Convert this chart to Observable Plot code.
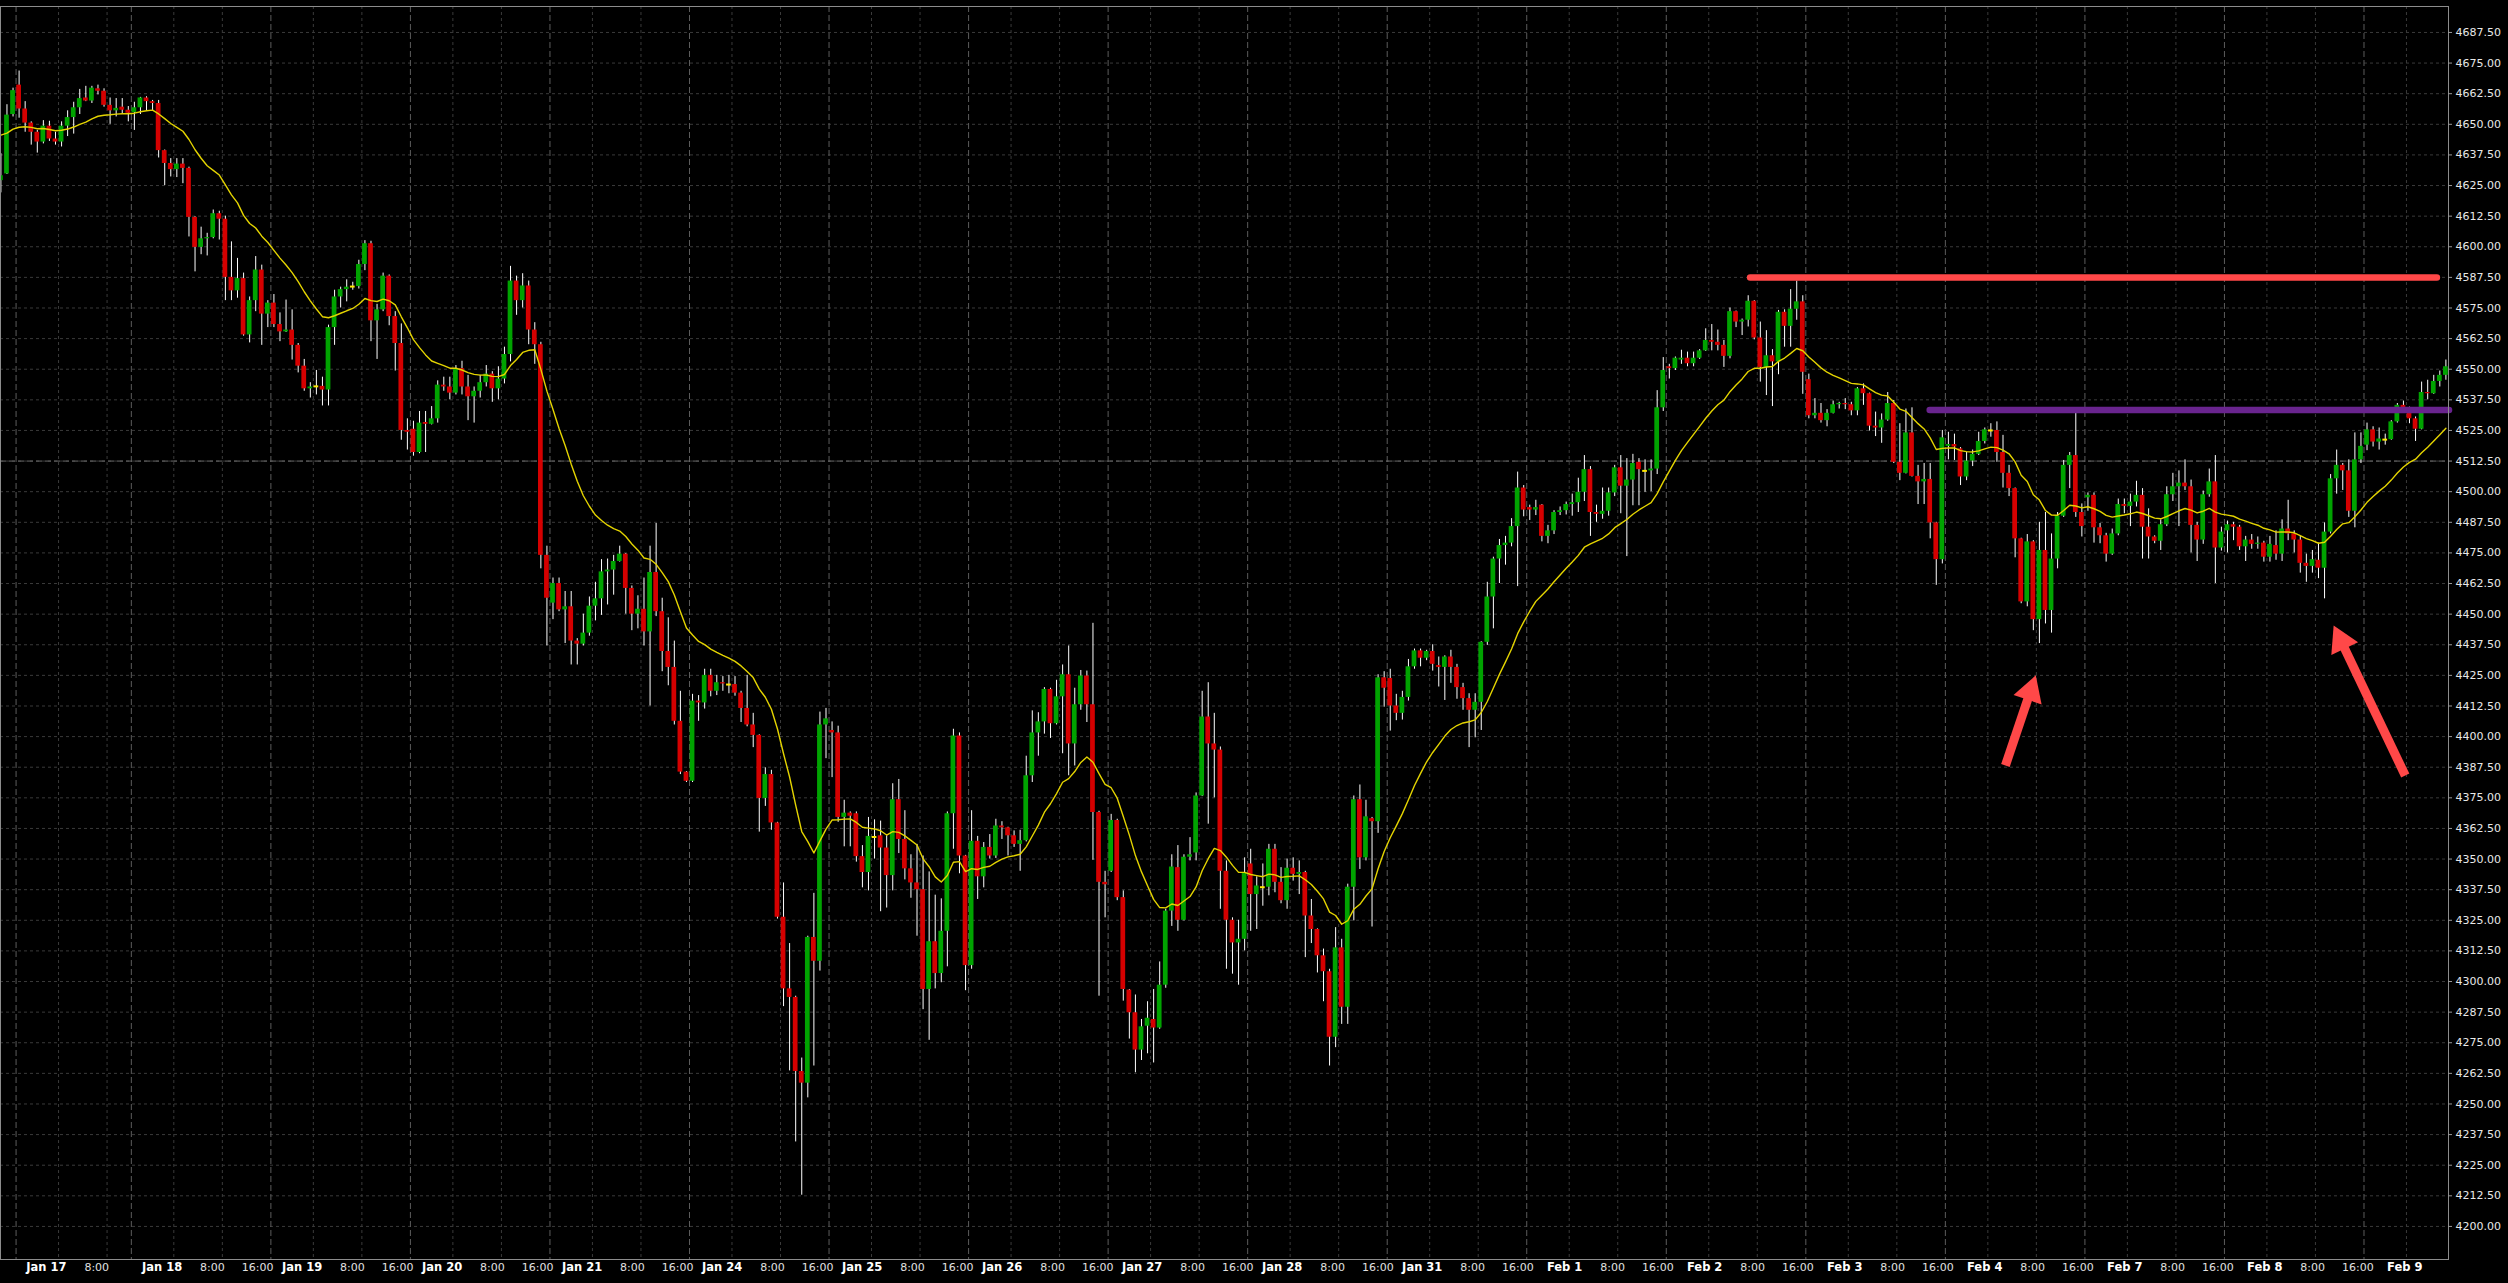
<!DOCTYPE html>
<html><head><meta charset="utf-8">
<script src="https://cdn.jsdelivr.net/npm/d3@7"></script>
<script src="https://cdn.jsdelivr.net/npm/@observablehq/plot@0.6"></script>
<style>
html,body{margin:0;padding:0;background:#000;overflow:hidden;}
#chart svg{display:block;}
</style></head><body><div id="chart"></div>
<script>
// ---- hourly OHLC (bar index 0..403) ----
const open = [
4627,4629.75,4654,4666,4656.25,4650.5,4646.75,4642.75,4649.25,4644,
4642.75,4649.25,4652.75,4656.75,4660.75,4659.5,4664.5,4663.5,4657.75,4655.5,
4657,4655.75,4654.75,4656.75,4660.75,4659.25,4658.5,4639.25,4634,4631.5,
4633.75,4632,4612,4599.75,4603.25,4603.75,4613.5,4611.25,4587.5,4582,
4587,4564,4578,4590.5,4572.5,4577,4568.25,4565.25,4566,4559.75,
4551.25,4542,4543,4543,4541.5,4567,4579.5,4582.5,4583.75,4583.75,
4592.75,4601.25,4569.75,4574.25,4588,4571.5,4560.5,4525,4525.5,4516,
4528.25,4527.5,4529.75,4543.5,4542.75,4540.25,4550.25,4542.75,4538.75,4541,
4544.5,4548,4542,4546,4556,4586,4578,4584,4566,4560,
4474,4454.5,4462.5,4451.75,4453,4439,4437.75,4442.25,4453.25,4456.25,
4467.25,4468,4471.5,4474.5,4460.5,4450,4452,4442.75,4467,4451,
4434.75,4428.25,4406.25,4385.5,4381.75,4414.5,4413.75,4425,4418.5,4422,
4421.25,4421.25,4417.75,4411.5,4404.75,4400.5,4374.75,4384.5,4364.75,4326.25,
4297,4293.5,4263.25,4258.5,4318,4308.25,4404.75,4402.5,4401.5,4367,
4368.75,4368.5,4351,4344.5,4359,4359.5,4354.5,4343.25,4374.25,4358,
4346,4340.25,4337.5,4296.75,4316.25,4303.25,4320.5,4368.5,4400.25,4351.25,
4306.5,4357.25,4342.75,4354.75,4351.25,4363.5,4362.75,4359.5,4356,4357.5,
4384,4401.5,4406,4419.25,4405.25,4416.25,4425.25,4397,4413,4424.75,
4413,4369,4340.5,4345,4365.75,4334.25,4296.5,4287.25,4272,4281.75,
4284.5,4281,4298.5,4328.75,4346.5,4325,4350.75,4352.5,4375.75,4408,
4397,4394.5,4345,4325,4315.75,4317.25,4348,4335.5,4338.5,4338.5,
4354,4340.5,4333,4346.25,4343.75,4344.5,4326.75,4321.25,4310.5,4304,
4277.25,4313.75,4289.5,4338.5,4374.25,4350.5,4366.5,4365.25,4424,4423.75,
4412.5,4409.5,4416,4428.5,4435,4432,4434.75,4429,4428.25,4432.5,
4428.25,4420,4415.5,4410.75,4414,4438.5,4457,4472.5,4478,4479,
4485.75,4501.5,4493.5,4492.5,4494.5,4481.75,4484,4491.5,4492.25,4494.75,
4495.5,4499.75,4509,4491.5,4490.75,4492,4499.5,4509.75,4502.25,4504.75,
4512,4508.5,4508.5,4509.25,4534.25,4551,4550.25,4553.75,4554.5,4552.25,
4554.5,4557.5,4561.75,4561,4559.75,4555.25,4573.5,4569.25,4570,4577.75,
4562.75,4550.75,4555.5,4553,4573.25,4567.5,4574.5,4577.5,4545.75,4531,
4532,4529,4532,4535.5,4536,4535.5,4533,4542,4540,4526.75,
4526,4529.25,4536,4512,4507.5,4524,4506.25,4504,4505,4487.25,
4472.25,4518.5,4519.25,4517.5,4506,4512.5,4515.25,4520.5,4525,4525,
4516,4507.5,4501.25,4480.75,4455,4479.5,4447.75,4476,4451.5,4472.5,
4490,4510.75,4514.75,4491.5,4497.5,4498.5,4485.25,4482,4474.5,4482.75,
4494.75,4494,4495.75,4498.5,4485.5,4481.5,4479.75,4486.5,4498.75,4502,
4503.5,4502,4486.25,4480.25,4498.75,4504,4477,4484,4486.5,4485.5,
4477.5,4480.25,4478.5,4479,4473.25,4478,4474.5,4484.75,4482.75,4480.25,
4470.75,4469.5,4472,4468.75,4483.5,4505.25,4510.75,4508.5,4492,4513,
4519,4525.25,4520.25,4521.25,4521.25,4528.5,4535.25,4533.5,4529.75,4525.5,
4540.5,4540,4545,4547.5];
const high = [
4638,4658,4664.75,4671.75,4659.25,4651,4647.5,4651.5,4651.25,4646.75,
4651,4655.5,4659,4664.25,4665.5,4665.5,4666,4664.5,4660.75,4660.5,
4660.5,4657.25,4659,4661,4661.25,4659.75,4659.75,4639.5,4636,4636,
4636,4632.5,4612.25,4608,4605.5,4615,4614.5,4612.5,4602,4595.25,
4589.25,4579.5,4596,4592.5,4578,4580.5,4573,4578.25,4574.25,4560.5,
4554,4544.5,4549.5,4546.75,4568,4582.25,4583.5,4586.5,4585.5,4594.5,
4602.5,4602.25,4576.5,4589.25,4588.5,4573.5,4568.5,4529.75,4528.75,4532.75,
4532.75,4534.75,4545.25,4546.75,4546.75,4551.5,4553.25,4547.5,4542.75,4547.5,
4551.5,4549,4551,4559,4592,4588,4589,4586,4569,4561,
4477.75,4464.75,4464.75,4459.25,4459.25,4440,4450,4457,4463,4472.25,
4472.5,4474,4477.75,4474.75,4461.5,4457.5,4464.75,4477.75,4487,4456.5,
4448.5,4439,4418.5,4385.75,4417.25,4416.75,4427.5,4427.5,4425,4424.5,
4425,4424.5,4418.5,4425,4409.5,4400.75,4387.25,4386.25,4365,4340.25,
4315.5,4294,4268.75,4318.5,4336,4410,4411.5,4406,4404.25,4374,
4369.25,4369.25,4355.5,4367,4366,4365.5,4359.5,4380.75,4382.5,4369.75,
4351.75,4356,4351.25,4344.75,4335.25,4333.75,4369.25,4403,4401.5,4351.5,
4369.75,4359.25,4356.75,4360,4366.25,4365.25,4363,4361.5,4361.75,4392,
4410.5,4409.75,4420,4419.75,4423,4429.25,4437,4419.75,4427,4426.75,
4446.25,4369.5,4345,4368.25,4366.25,4337,4296.75,4294.5,4284.5,4291.75,
4296.75,4308,4329.5,4351.75,4355.5,4351.75,4358.75,4377,4418.5,4422,
4409.5,4395.75,4349.25,4326,4325,4350.5,4354,4342.75,4348,4356,
4356,4346.5,4350,4350.5,4349.25,4345,4333.5,4321.5,4313.25,4305,
4322,4317.25,4339.75,4375.75,4380.25,4374,4367,4425.25,4426.5,4427.5,
4417.25,4418.5,4431.5,4435.75,4435.75,4435.25,4437.5,4432.5,4433,4435.25,
4429.5,4421.75,4417.5,4417.5,4438.75,4463,4473.25,4480.5,4481.75,4489,
4508,4502.5,4494.5,4496.5,4494.75,4486.25,4492.25,4493.75,4495.75,4499,
4505.5,4514.75,4510.25,4494.5,4501.5,4501.5,4510.75,4514.75,4513.5,4515.25,
4513.5,4513,4513,4541.25,4554.75,4552,4555,4557.75,4557,4557,
4558,4566.5,4568.25,4566,4561.75,4575,4573.75,4570.5,4580,4578,
4569.25,4565.75,4558,4574,4574.25,4582.5,4586,4580,4548,4538,
4536,4533.5,4537,4536.5,4538,4536.5,4542.5,4544,4540.25,4532.5,
4531.75,4540.5,4537.25,4527.75,4533.75,4534.25,4510.75,4511.5,4511.5,4487.5,
4525,4524.25,4523.5,4518,4516,4517,4524.25,4526,4527.75,4528.5,
4523,4510.75,4501.5,4481,4482.5,4480,4487.5,4491.5,4482.75,4491.5,
4512.75,4516,4532,4495,4499.5,4499.5,4487,4483,4484.75,4497,
4497,4499,4504.25,4501.25,4493,4482,4488.5,4502,4507.5,4508.5,
4513,4504.75,4487.5,4500.25,4509.25,4514.75,4485.5,4488,4487.5,4486.25,
4481.75,4482.5,4481.5,4479.75,4481.75,4484,4488.5,4496.5,4484,4481.75,
4474.5,4476,4479,4487.25,4507,4517,4511.5,4513,4524,4524,
4528,4526.5,4526,4523.5,4529,4536,4537,4534.5,4530.5,4544.75,
4545.5,4547.5,4549.25,4553.75];
const low = [
4622,4629.5,4653,4652.5,4646.75,4641.5,4638.25,4642,4643,4641.5,
4640.75,4645,4646,4654,4659.25,4658.5,4662,4657,4650,4653,
4654,4651,4647.5,4654,4655.25,4655.5,4636.25,4625,4628.5,4628.25,
4625.75,4604,4589.75,4596.75,4596.25,4603.25,4602.75,4578,4578,4579,
4563.5,4560.75,4573.5,4559.75,4567,4567,4561.25,4565,4553.75,4548.5,
4541,4538.25,4539.5,4535,4535,4559.75,4575,4577.5,4582.25,4582.75,
4590.25,4561.25,4554,4573.5,4567.75,4549.25,4521,4517,4514.5,4515.5,
4516,4527.25,4528,4541,4537.5,4539.5,4539.5,4529,4528,4538.25,
4542.75,4536.5,4537.5,4544,4553,4572,4575,4560,4552,4468.5,
4437,4447.75,4451,4438,4429.25,4429.25,4437,4441,4447.25,4449.5,
4453.75,4457.75,4471.25,4450,4443.25,4444,4437,4412.5,4449,4426.5,
4420.75,4404.75,4384.5,4381.25,4381.25,4406.25,4411.25,4416.25,4416.75,4418.5,
4417.5,4416.5,4405.75,4404,4395.5,4361,4371.5,4361.75,4325.5,4289.75,
4263.5,4234.5,4212.75,4252.5,4265.5,4304.25,4391,4383.25,4365,4355,
4355,4348.75,4338.25,4337,4350,4328.5,4330,4337,4352.25,4341.5,
4334,4318.5,4288.5,4276,4297,4299.5,4306,4354,4344,4296.25,
4305,4333.5,4338.25,4350,4350.25,4358,4351.25,4354.75,4345,4357,
4381.25,4392,4401,4399.25,4404.75,4393,4384,4388,4410.75,4405.75,
4349.5,4294,4326,4344.5,4333,4292,4276.5,4262.75,4267.75,4270.5,
4266.75,4280.5,4297.25,4322.5,4320.5,4324.75,4349.25,4349.25,4375.5,4364.25,
4375,4329.5,4305,4303,4298.5,4312.5,4320.5,4321.25,4330.75,4335,
4336.25,4331.75,4329.5,4341,4335.5,4309.75,4315.5,4303.5,4291.75,4265.5,
4273,4282.5,4282.5,4324.75,4345.75,4349.25,4322.25,4360.5,4412,4402.25,
4406.5,4406.75,4414.5,4427.5,4428.5,4431,4426.75,4420.25,4414.75,4421.75,
4415.25,4410.75,4395.5,4399.5,4402.5,4437.25,4444,4462.5,4470,4477.5,
4461.25,4489.75,4488.25,4490.25,4479.5,4478.75,4482.5,4490.25,4490.5,4490,
4491.5,4496,4481.75,4487.5,4488.75,4490,4498,4491,4473.5,4494.25,
4494.25,4499.75,4500,4507,4532.75,4546,4549.5,4552,4551,4551,
4554,4557.25,4557.5,4557.5,4550.75,4554.25,4567,4563.75,4567.25,4562,
4544.75,4539.25,4534.75,4547.75,4559,4559,4570,4539.75,4529.75,4529.75,
4528,4526.5,4531.75,4533.75,4533.5,4531,4531,4535.25,4524.75,4522.5,
4519.75,4528.75,4511.5,4504.5,4507.25,4506,4494.75,4494.75,4480.75,4461.75,
4470.5,4513,4512.75,4502.5,4504.5,4510.25,4514.75,4519.5,4522.25,4512,
4501.5,4498,4473,4454.25,4453,4443.25,4438,4446,4442.25,4468.5,
4489.5,4501.25,4489.5,4481.5,4492,4479,4478.75,4471.25,4474,4482,
4491,4485.75,4493.75,4472.5,4472.5,4478.75,4476,4485.75,4496,4485.75,
4500.5,4475,4471.5,4478.5,4497.75,4462.5,4475.75,4475,4480,4476,
4471.5,4476.5,4476.5,4471.25,4471.25,4472,4471.5,4480,4475,4466.75,
4463,4466.75,4464.5,4456.25,4482.75,4499,4500.5,4489.5,4485.25,4511.5,
4516.75,4518.25,4517,4519,4521,4528,4532.5,4527.75,4520.5,4525.25,
4537.5,4539.75,4542.75,4545.5];
const close = [
4629,4653.75,4663.75,4656.25,4650.5,4646.75,4642.75,4649.25,4644,4642.75,
4649.25,4652.75,4656.75,4660.5,4659.5,4664.75,4663.5,4657.75,4655.5,4656.5,
4655.75,4654.5,4656.75,4660.75,4659.25,4658.5,4639.25,4634,4631.5,4633.75,
4632,4612,4599.75,4603.25,4603.75,4613.5,4611.25,4587.5,4582,4587,
4564,4578,4590.5,4572.5,4577,4568.25,4565.25,4566,4559.75,4551.25,
4542,4542.75,4543,4541.5,4567,4579.5,4582.5,4583.5,4583.75,4592.75,
4601.25,4569.75,4574.25,4588,4571.5,4560.5,4525,4524.25,4516,4528,
4527.5,4529.75,4543.5,4542.75,4540.25,4550.25,4542.75,4538.75,4541,4544.5,
4548,4542,4546,4556,4586,4578,4584,4566,4560,4474,
4456.5,4462.5,4451.75,4453,4439,4437.75,4442.25,4453.25,4456.25,4467.25,
4468,4471.5,4474.5,4460.5,4450,4452,4442.75,4467,4451,4434.75,
4428.25,4406.25,4385.5,4381.75,4414.5,4413.75,4425,4418.5,4422,4421.5,
4421.25,4417.75,4411.5,4404.75,4400.5,4374.75,4384.5,4364.75,4326.25,4297,
4293.5,4263.25,4258.5,4318,4308.25,4404.75,4407.25,4401.5,4367,4368.75,
4367.5,4351,4344.5,4359.25,4359,4354.5,4343.25,4374.25,4358,4346,
4340.25,4337.5,4296.75,4316.25,4303.25,4320.5,4368.5,4400.25,4351.25,4306.5,
4357.25,4342.75,4354.75,4351.25,4363.5,4362.75,4359.5,4356,4357.5,4384,
4401.5,4406,4419.25,4405.25,4416.25,4425.25,4397,4413,4424.75,4413,
4369,4340.5,4339.5,4365.75,4334.25,4296.75,4287.25,4272,4281.5,4285,
4281,4298.5,4328.75,4346.75,4325,4350.75,4351.75,4375.75,4408,4397,
4394.5,4345,4325,4315.75,4317.25,4344.5,4335.5,4339,4338.5,4354,
4340.5,4333,4346.25,4343.75,4344.5,4326.75,4321.25,4310.5,4304,4277.25,
4313.75,4289.5,4338.5,4374.25,4350.5,4367.25,4365.25,4424,4419.75,4412.5,
4409.5,4416,4428.5,4435,4432,4434.75,4429.5,4428.25,4432.5,4428.25,
4420,4415.5,4410.75,4414,4438.5,4457,4472.5,4478,4479,4485.75,
4501.5,4492.5,4492.5,4493.5,4481.75,4484,4491.5,4492.25,4494.75,4495.5,
4499.75,4509,4491.5,4490.75,4492,4499.5,4509.75,4502.25,4504.75,4511.5,
4509,4508.5,4509.25,4534.25,4549.5,4550.25,4554.5,4554.5,4552.25,4554.5,
4557.5,4561.75,4561,4559.75,4555.25,4573.5,4569.25,4570,4577.75,4562.75,
4550.75,4555.5,4553,4573.25,4567.5,4574.5,4577.5,4548.75,4531,4532,
4529,4532,4535.5,4536,4535.5,4533,4542,4540,4526.75,4526,
4529.25,4536,4512,4507.5,4524,4506.25,4504,4505,4487.25,4472.25,
4522,4519.25,4518.25,4506,4512.5,4515.25,4520.5,4525.25,4525,4516,
4507.5,4501.25,4480.75,4455,4479.5,4447.75,4476,4451.5,4472.5,4490,
4510.75,4514.75,4491.5,4485.75,4498.5,4485.25,4482,4474.5,4482.75,4494.75,
4494,4495.75,4498.5,4485.5,4481.5,4479.75,4486.5,4498.75,4502,4503.5,
4502,4486.25,4480.25,4498.75,4504,4477,4483.5,4486.5,4485.5,4477.5,
4480.25,4478.5,4479,4473.25,4478.5,4474.5,4484.75,4482.75,4480.25,4470.75,
4469.5,4472.25,4468.75,4483.5,4505.25,4510.75,4508.5,4492,4513,4518.5,
4525.25,4520.25,4521.5,4521.25,4528.5,4535.25,4533.5,4529.75,4525.5,4540.5,
4540,4545,4547.5,4551];

// moving average (EMA) settings: value at first bar
const maStart = 4645.6;
const maPeriod = 20;

// sessions: first bar index of each day, labels
const dayLabels = ["Jan 17","Jan 18","Jan 19","Jan 20","Jan 21","Jan 24","Jan 25","Jan 26","Jan 27","Jan 28","Jan 31","Feb 1","Feb 2","Feb 3","Feb 4","Feb 7","Feb 8","Feb 9"];
const dayStart = [3,22,45,68,91,114,137,160,183,206,229,252,275,298,321,344,367,390];
const firstHour = 1;
const intradayHours = [8, 16];

// price axis ticks
const yTicks = d3.range(4200, 4687.5 + 0.001, 12.5);
const markerPrice = [4512.5];

// drawn levels
const resistancePrice = [4587.5], resistanceFrom = [288.4], resistanceTo = [401.6];
const necklinePrice = [4533.3], necklineFrom = [318.0], necklineTo = [403.6];

// arrows (tail -> tip), in bar index / price
const arrowTailBar = [330.4, 396.3], arrowTailPrice = [4388.2, 4384.1];
const arrowTipBar = [335.4, 384.5], arrowTipPrice = [4425.0, 4445.4];

// ---- layout / style ----
const W = 2508, H = 1283, mL = 0, mR = 60, mT = 6, mB = 24;
const xDomain = [-0.066, 403.43], yDomain = [4186.5, 4698.1];
const BAR_PX = (W - mR - mL) / (xDomain[1] - xDomain[0]);
const UP = "#00a300", DOWN = "#d50000", DOJI = "#ffe800", WICK = "#ffffff", MA_COLOR = "#e4d400";
const LEVEL_RED = "#ff4848", LEVEL_PURPLE = "#69248e";
const HALF = 0.39;

const bars = open.map((o, i) => ({i, o, h: high[i], l: low[i], c: close[i]}));
const alpha = 2 / (maPeriod + 1);
let m = maStart;
const maData = bars.map((d, i) => { if (i > 0) m += alpha * (d.c - m); return {i, ma: m}; });

const dayGrid = dayStart.map(s => s - 0.5);
const timeGrid = [], timeLabels = [];
dayStart.forEach((s, k) => {
  const end = k + 1 < dayStart.length ? dayStart[k + 1] : open.length;
  intradayHours.forEach(h => {
    const b = s + (h - firstHour);
    if (b < end) {
      timeGrid.push(b - 0.5);
      if (b + 8 <= end) timeLabels.push({g: b - 0.5, label: h + ":00"});
    }
  });
});
const labelX = g => g + (50.8 + (g - 21.4) * 0.0209) / BAR_PX;
const dayLabelData = dayStart.map((s, k) => ({g: s - 0.5, label: dayLabels[k]}));

const sx = d3.scaleLinear(xDomain, [mL, W - mR]);
const sy = d3.scaleLinear(yDomain, [H - mB, mT]);
const HEAD_R = 11;
const HEAD_OFF = 2 * Math.sqrt(Math.PI * HEAD_R * HEAD_R / (Math.sqrt(3) * 3));
const arrowData = arrowTipBar.map((_, k) => {
  const x1 = sx(arrowTailBar[k]), y1 = sy(arrowTailPrice[k]);
  const x2 = sx(arrowTipBar[k]), y2 = sy(arrowTipPrice[k]);
  const len = Math.hypot(x2 - x1, y2 - y1), ux = (x2 - x1) / len, uy = (y2 - y1) / len;
  return {x1: arrowTailBar[k], y1: arrowTailPrice[k],
          hx: sx.invert(x2 - ux * HEAD_OFF), hy: sy.invert(y2 - uy * HEAD_OFF),
          rot: Math.atan2(ux, -uy) * 180 / Math.PI};
});

const chart = Plot.plot({
  width: W, height: H, marginLeft: mL, marginRight: mR, marginTop: mT, marginBottom: mB,
  x: {domain: xDomain, axis: null},
  y: {domain: yDomain, axis: null},
  style: {background: "#000", color: "#e6e6e6", fontFamily: "'DejaVu Sans', sans-serif", overflow: "visible"},
  marks: [
    Plot.ruleY(yTicks, {stroke: "#3a3a3a", strokeDasharray: "3,3"}),
    Plot.ruleX(timeGrid, {stroke: "#3a3a3a", strokeDasharray: "3,3"}),
    Plot.ruleX(dayGrid, {stroke: "#5c5c5c", strokeDasharray: "6,3"}),
    Plot.ruleY(markerPrice, {stroke: "#6a6a6a", strokeDasharray: "6,3"}),
    Plot.ruleX(bars, {x: "i", y1: "l", y2: "h", stroke: WICK, strokeWidth: 1}),
    Plot.rect(bars.filter(d => d.c > d.o), {x1: d => d.i - HALF, x2: d => d.i + HALF, y1: "o", y2: "c", fill: UP}),
    Plot.rect(bars.filter(d => d.c < d.o), {x1: d => d.i - HALF, x2: d => d.i + HALF, y1: "o", y2: "c", fill: DOWN}),
    Plot.ruleY(bars.filter(d => d.c === d.o), {y: "o", x1: d => d.i - HALF, x2: d => d.i + HALF, stroke: DOJI, strokeWidth: 2}),
    Plot.line(maData, {x: "i", y: "ma", stroke: MA_COLOR, strokeWidth: 1.4}),
    Plot.ruleY(resistancePrice, {y: d => d, x1: (d, k) => resistanceFrom[k], x2: (d, k) => resistanceTo[k], stroke: LEVEL_RED, strokeWidth: 6.5, strokeLinecap: "round"}),
    Plot.ruleY(necklinePrice, {y: d => d, x1: (d, k) => necklineFrom[k], x2: (d, k) => necklineTo[k], stroke: LEVEL_PURPLE, strokeWidth: 6.5, strokeLinecap: "round"}),
    Plot.link(arrowData, {x1: "x1", y1: "y1", x2: "hx", y2: "hy", stroke: LEVEL_RED, strokeWidth: 9}),
    Plot.dot(arrowData, {x: "hx", y: "hy", symbol: "triangle", r: HEAD_R, rotate: "rot", fill: LEVEL_RED, stroke: "none"}),
    Plot.frame({stroke: "#8c8c8c"}),
    Plot.ruleY(yTicks, {x1: xDomain[1], x2: xDomain[1] + 4 / BAR_PX, stroke: "#9a9a9a"}),
    Plot.text(yTicks, {y: d => d, text: d => d.toFixed(2), frameAnchor: "right", dx: 7, textAnchor: "start", fontSize: 11, fill: "#e8e8e8"}),
    Plot.text(dayLabelData, {x: d => labelX(d.g), text: "label", frameAnchor: "bottom", dy: 11, textAnchor: "end", fontSize: 11.5, fontWeight: "bold", fill: "#ffffff"}),
    Plot.text(timeLabels, {x: d => labelX(d.g), text: "label", frameAnchor: "bottom", dy: 11, textAnchor: "end", fontSize: 11, fill: "#e0e0e0"})
  ]
});
document.getElementById("chart").appendChild(chart);
</script>
</body></html>
